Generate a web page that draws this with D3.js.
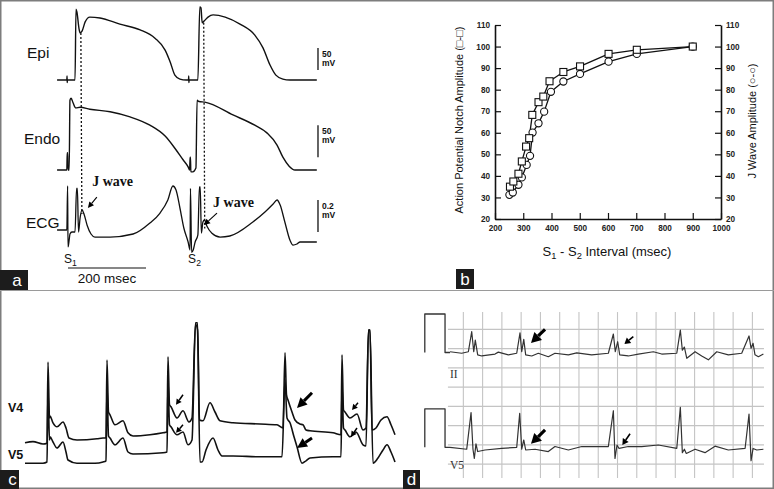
<!DOCTYPE html>
<html>
<head>
<meta charset="utf-8">
<title>J wave figure</title>
<script src="https://cdn.jsdelivr.net/npm/d3@7"></script>
<style>
    body { margin: 0; background: #fff; }
    svg { display: block; font-family: "Liberation Sans", Arial, sans-serif; }
</style>
</head>
<body>
<div id="cont"></div>
<script>
// ---------- panel a : action potentials + ECG (t in msec from S1, amplitude above rest)
var epiTrace = [[-28,0],[-5,0],[-3,0],[-2.5,9],[-2,-6],[-1.5,0],[18,0],[20.5,161],[23,154],[28,118],[31,107],[36,111],
    [44,132],[56,143],[82,141],[133,127],[185,114],[223,95],[249,68],[262,41],[274,11],[287,2],[303,0],[309,0],
    [309.5,9],[310,-6],[310.5,0],[333,0],[338,166],[341,164],[344,130],[349,134],[359,143],[372,148],[403,143],
    [441,127],[479,102],[500,73],[518,34],[533,11],[551,2],[569,0],[638,0]];
var endoTrace = [[-28,0],[-5,0],[-3,0],[-2,27],[-1,27],[0,0],[3,0],[5,109],[8,112],[13,105],[20,97],[31,98],[56,95],
    [108,91],[159,83],[210,70],[249,53],[274,34],[295,16],[308,5],[312,0],[313,20],[314,20],[315,-3],[320,-3],
    [328,3],[331,109],[336,107],[351,106],[423,86],[479,70],[510,58],[536,39],[551,20],[567,6],[582,0],[638,0]];
var ecgTrace = [[-28,0],[-5,0],[-3,0],[-1,0.275],[0,-0.106],[3,-0.0625],[5,-0.025],[10,-0.0125],[18,-0.0125],
    [22,0.26],[24,0.26],[27,-0.0125],[31,0.075],[36,0.125],[41,0.1],[49,0.03],[59,-0.025],[69,-0.044],[108,-0.044],
    [167,-0.025],[210,0.044],[236,0.106],[256,0.1875],[269,0.275],[277,0.25],[287,0.1375],[297,0.0125],[308,-0.075],
    [313,-0.125],[314,0.26],[317,-0.14],[321,-0.125],[326,-0.075],[333,-0.03],[337,0.27],[339,0.27],[342,-0.02],
    [346,0.05],[350,0.0625],[356,0.025],[369,-0.02],[390,-0.044],[415,-0.0375],[474,0.05],[505,0.1125],[526,0.1625],
    [536,0.1875],[544,0.156],[556,0.05],[569,-0.0625],[577,-0.094],[587,-0.0875],[595,-0.075],[638,-0.075]];
var notchTimes = [33, 348];
var notchTop = [107, 130];
var notchBottom = [0.1, 0.01];
var jWaveArrows = [[74, 0.206, 51, 0.1375], [382, 0.106, 349, 0.031]];
var jWaveText = [[62, 0.275], [372, 0.144]];

// ---------- panel b : restitution of notch and J wave
var xTicksB = [200, 300, 400, 500, 600, 700, 800, 900, 1000];
var yTicksB = [20, 30, 40, 50, 60, 70, 80, 90, 100, 110];
var notchInterval = [253, 265, 283, 295, 310, 321, 332, 354, 371, 393, 442, 501, 602, 702, 900];
var notchAmplitude = [35, 37.4, 41, 46.7, 53.6, 57.5, 68.3, 74.2, 76.8, 83.9, 88.2, 90.8, 96.6, 98.5, 100];
var jInterval = [251, 263, 283, 295, 312, 324, 333, 354, 374, 398, 442, 501, 602, 702, 900];
var jAmplitude = [31.2, 32.3, 35.9, 39.3, 45.1, 49.3, 60.1, 64.4, 69.8, 79, 83.8, 87.3, 93, 96.6, 100];

// ---------- panel c : V4 / V5 strip (msec, mV)
var v4Trace = [[0,-0.07],[80,-0.04],[180,-0.1],[220,-0.08],[230,1.95],[245,0.55],[250,0.6],[280,0.43],[320,0.33],
    [380,0.45],[410,0.3],[440,0.05],[520,0],[720,0.03],[780,0.05],[810,0.05],[820,2.0],[835,0.7],[850,0.63],
    [900,0.38],[980,0.48],[1030,0.18],[1080,0.1],[1250,0.13],[1380,0.18],[1420,0.2],[1430,2.08],[1445,0.88],
    [1460,0.83],[1520,0.55],[1580,0.73],[1640,0.45],[1670,0.55],[1705,2.93],[1725,2.93],[1745,0.5],[1780,0.48],
    [1850,0.93],[1900,0.7],[1950,0.48],[2080,0.43],[2350,0.4],[2520,0.38],[2580,0.3],[2600,2.18],[2615,1.13],
    [2630,1.0],[2670,0.7],[2700,0.5],[2750,0.4],[2780,0.38],[2810,0.25],[2850,0.23],[3080,0.18],[3160,0.13],
    [3170,2.13],[3185,0.75],[3200,0.7],[3250,0.55],[3320,0.65],[3380,0.25],[3410,0.3],[3435,2.75],[3450,2.75],
    [3470,0.25],[3510,0.3],[3560,0.5],[3620,0.58],[3660,0.38],[3700,0.13]];
var v5Trace = [[0,-0.03],[80,-0.03],[180,-0.03],[220,0],[230,1.8],[245,0.55],[250,0.63],[280,0.5],[320,0.35],
    [380,0.5],[410,0.25],[430,0.05],[520,-0.03],[700,-0.03],[780,0],[810,0.03],[820,1.93],[835,0.65],[850,0.6],
    [900,0.43],[980,0.6],[1030,0.25],[1080,0.2],[1380,0.23],[1420,0.25],[1430,2.05],[1445,0.93],[1460,0.88],
    [1520,0.68],[1580,0.75],[1630,0.43],[1670,0.55],[1705,3.45],[1725,3.3],[1750,0],[1770,0],[1810,0.3],
    [1880,0.6],[1930,0.3],[1970,0.15],[2080,0.15],[2350,0.13],[2570,0.13],[2600,2.05],[2620,1.1],[2650,0.98],
    [2690,0.63],[2720,0.38],[2770,-0.03],[2810,0.03],[2850,0.1],[3080,0.13],[3160,0.13],[3170,1.93],[3185,0.85],
    [3200,0.8],[3250,0.63],[3310,0.75],[3380,0.43],[3410,0.4],[3435,3.3],[3450,3.3],[3480,-0.03],[3530,0.1],
    [3580,0.3],[3620,0.43],[3660,0.25],[3700,0]];
// arrows: tail t, tail mV, head t, head mV, big?
var v4Arrows = [[1580,1.13,1510,0.88,0],[2870,1.18,2720,0.8,1],[3330,0.93,3270,0.75,0]];
var v5Arrows = [[1580,0.93,1510,0.73,0],[2870,0.6,2720,0.35,1],[3320,0.85,3260,0.63,0]];

// ---------- panel d : leads II / V5 on paper (msec, mV)
var gridMs = [400, 600, 800, 1000, 1200, 1400, 1600, 1800, 2000, 2200, 2400, 2600, 2800, 3000, 3200, 3400];
var gridMv = [0.6, 0.1, -0.4, -0.9, -1.4, -1.9, -2.4, -2.9];
var calPulse = [[0,0],[0,1],[210,1],[210,0],[262,0]];
var leadIITrace = [[262,0.02],[383,-0.02],[452,0.02],[487,0.54],[508,0.02],[524,0.32],[549,-0.06],[591,-0.09],
    [729,-0.04],[763,0.01],[867,-0.06],[954,-0.02],[988,0.51],[1006,0.02],[1027,0.34],[1047,-0.06],[1110,-0.09],
    [1178,-0.02],[1282,-0.11],[1351,-0.02],[1490,-0.06],[1577,-0.01],[1732,-0.06],[1905,-0.02],[1957,0.48],
    [1977,0.02],[2002,0.28],[2023,-0.06],[2112,-0.09],[2216,-0.04],[2372,0.02],[2459,-0.04],[2615,-0.02],
    [2652,0.58],[2673,0.06],[2694,0.14],[2719,-0.15],[2805,0.02],[2874,-0.09],[2943,-0.19],[3030,0.02],
    [3150,-0.06],[3289,-0.02],[3365,0.43],[3386,0.11],[3407,0.24],[3427,-0.06],[3462,-0.11],[3514,-0.04]];
var leadV5Trace = [[262,0],[435,-0.05],[480,0.9],[500,-0.05],[514,-0.29],[531,0.09],[549,-0.11],[625,-0.07],
    [798,-0.03],[954,0],[985,0.88],[1006,-0.05],[1027,0.19],[1047,-0.07],[1144,-0.05],[1282,-0.11],[1351,0.02],
    [1490,-0.07],[1629,0.02],[1905,0.02],[1957,0.95],[1974,-0.29],[1995,0.06],[2016,-0.03],[2112,0.02],
    [2251,0.02],[2424,0.06],[2615,-0.03],[2652,1.04],[2673,-0.14],[2694,-0.05],[2714,-0.16],[2805,-0.05],
    [2908,-0.14],[3012,0.03],[3150,-0.07],[3324,-0.03],[3365,0.86],[3386,-0.35],[3407,-0.03],[3445,-0.07],
    [3514,-0.05]];
var leadIIArrows = [[1248,0.6,1102,0.25,1],[2164,0.41,2071,0.22,0]];
var leadV5Arrows = [[1248,0.45,1102,0.09,1],[2130,0.35,2050,0.06,0]];

(function() {
    var svg = d3.select('#cont').append('svg')
        .attr('width', 774)
        .attr('height', 489);

    function trace(g, data, x, y, curve, width, color) {
        g.append('path')
            .datum(data)
            .attr('d', d3.line().x(function(d) { return x(d[0]); }).y(function(d) { return y(d[1]); }).curve(curve))
            .attr('fill', 'none')
            .attr('stroke', color)
            .attr('stroke-width', width)
            .attr('stroke-linejoin', 'round');
    }

    function arrow(g, x1, y1, x2, y2, len, half, w) {
        var a = Math.atan2(y2 - y1, x2 - x1);
        var bx = x2 - len * Math.cos(a), by = y2 - len * Math.sin(a);
        var px = -Math.sin(a) * half, py = Math.cos(a) * half;
        g.append('line')
            .attr('x1', x1).attr('y1', y1).attr('x2', bx).attr('y2', by)
            .attr('stroke', '#000').attr('stroke-width', w);
        g.append('path')
            .attr('d', 'M' + x2 + ',' + y2 + 'L' + (bx + px) + ',' + (by + py) + 'L' + (bx - px) + ',' + (by - py) + 'Z')
            .attr('fill', '#000');
    }

    function subText(g, x, y, parts, size, anchor) {
        var t = g.append('text').attr('x', x).attr('y', y)
            .attr('font-size', size).attr('text-anchor', anchor || 'start').attr('fill', '#111');
        parts.forEach(function(p) {
            t.append('tspan').text(p[0])
                .attr('font-size', p[1] ? size * 0.72 : size)
                .attr('dy', p[1] ? size * 0.25 : (p[2] ? -size * 0.25 : 0));
        });
        return t;
    }

    function panelTag(x, y, w, h, letter) {
        svg.append('rect').attr('x', x).attr('y', y).attr('width', w).attr('height', h).attr('fill', '#1c1c1c');
        svg.append('text').attr('x', x + w / 2 + (x === 0 ? 3 : 0)).attr('y', y + h - 4)
            .attr('text-anchor', 'middle').attr('fill', '#fff').attr('font-size', 17).text(letter);
    }

    //frame
    svg.append('rect').attr('x', 0.75).attr('y', 0.75).attr('width', 772.5).attr('height', 487.5)
        .attr('fill', 'none').attr('stroke', '#7d7d7d').attr('stroke-width', 1.5);
    svg.append('line').attr('x1', 0).attr('x2', 774).attr('y1', 290.5).attr('y2', 290.5)
        .attr('stroke', '#9a9a9a').attr('stroke-width', 1);

    // ================= panel a
    var ga = svg.append('g');
    var xA = d3.scaleLinear().domain([0, 200]).range([68, 146]);
    var yEpi = d3.scaleLinear().domain([0, 50]).range([80, 58]);
    var yEndo = d3.scaleLinear().domain([0, 50]).range([170, 138]);
    var yEcgA = d3.scaleLinear().domain([0, 0.2]).range([230, 198]);

    trace(ga, epiTrace, xA, yEpi, d3.curveMonotoneX, 1.4, '#111');
    trace(ga, endoTrace, xA, yEndo, d3.curveMonotoneX, 1.4, '#111');
    trace(ga, ecgTrace, xA, yEcgA, d3.curveMonotoneX, 1.3, '#111');

    notchTimes.forEach(function(t, i) {
        ga.append('line')
            .attr('x1', xA(t)).attr('x2', xA(t) + 1)
            .attr('y1', yEpi(notchTop[i])).attr('y2', yEcgA(notchBottom[i]))
            .attr('stroke', '#111').attr('stroke-width', 1.3).attr('stroke-dasharray', '2,2');
    });

    jWaveArrows.forEach(function(a) {
        arrow(ga, xA(a[0]), yEcgA(a[1]), xA(a[2]), yEcgA(a[3]), 6, 3, 1.1);
    });
    jWaveText.forEach(function(p) {
        ga.append('text').attr('x', xA(p[0])).attr('y', yEcgA(p[1]))
            .attr('font-family', '"Liberation Serif", "Times New Roman", serif')
            .attr('font-weight', 'bold').attr('font-size', 14).attr('fill', '#111').text('J wave');
    });

    //trace labels
    [['Epi', 27, 58], ['Endo', 24, 144], ['ECG', 26, 228]].forEach(function(l) {
        ga.append('text').attr('x', l[1]).attr('y', l[2]).attr('font-size', 15.5).attr('fill', '#111').text(l[0]);
    });

    //amplitude scale bars
    var bars = [[yEpi, 23, 73, '50'], [yEndo, 20, 70, '50'], [yEcgA, -0.0125, 0.1875, '0.2']];
    bars.forEach(function(b) {
        var y0 = b[0](b[1]), y1 = b[0](b[2]);
        ga.append('line').attr('x1', xA(641)).attr('x2', xA(641)).attr('y1', y0).attr('y2', y1)
            .attr('stroke', '#111').attr('stroke-width', 1.3);
        ga.append('text').attr('x', xA(641) + 4).attr('y', y1 + 9).attr('font-size', 8.5)
            .attr('font-weight', 'bold').attr('fill', '#111').text(b[3]);
        ga.append('text').attr('x', xA(641) + 4).attr('y', y1 + 18).attr('font-size', 8.5)
            .attr('font-weight', 'bold').attr('fill', '#111').text('mV');
    });

    //time scale bar
    ga.append('line').attr('x1', xA(0)).attr('x2', xA(200)).attr('y1', yEcgA(-0.2375)).attr('y2', yEcgA(-0.2375))
        .attr('stroke', '#111').attr('stroke-width', 1.2);
    ga.append('text').attr('x', xA(100)).attr('y', 283).attr('text-anchor', 'middle')
        .attr('font-size', 13.5).attr('fill', '#111').text('200 msec');
    subText(ga, xA(-10), 263, [['S'], ['1', true]], 12);
    subText(ga, xA(308), 263, [['S'], ['2', true]], 12);

    panelTag(0, 270, 28, 20, 'a');

    // ================= panel b
    var gb = svg.append('g');
    var xB = d3.scaleLinear().domain([200, 1000]).range([495, 721]);
    var yB = d3.scaleLinear().domain([20, 110]).range([219, 25]);

    function styleAxis(sel) {
        sel.select('.domain').attr('stroke', '#111').attr('stroke-width', 1.6);
        sel.selectAll('.tick line').attr('stroke', '#111').attr('stroke-width', 1.2);
        sel.selectAll('.tick text').attr('font-size', 8.2).attr('font-weight', 'bold').attr('fill', '#222')
            .attr('font-family', '"Liberation Sans", Arial, sans-serif');
    }

    gb.append('g').attr('transform', 'translate(0,219)')
        .call(d3.axisBottom(xB).tickValues(xTicksB).tickFormat(d3.format('d'))
            .tickSizeInner(-6).tickSizeOuter(0).tickPadding(6.5))
        .call(styleAxis);
    gb.append('g').attr('transform', 'translate(495,0)')
        .call(d3.axisLeft(yB).tickValues(yTicksB).tickSizeInner(-6).tickSizeOuter(0).tickPadding(5))
        .call(styleAxis);
    gb.append('g').attr('transform', 'translate(721,0)')
        .call(d3.axisRight(yB).tickValues(yTicksB).tickSizeInner(-6).tickSizeOuter(0).tickPadding(5))
        .call(styleAxis);

    var notchPts = notchInterval.map(function(d, i) { return [d, notchAmplitude[i]]; });
    var jPts = jInterval.map(function(d, i) { return [d, jAmplitude[i]]; });

    trace(gb, jPts, xB, yB, d3.curveLinear, 1.3, '#111');
    trace(gb, notchPts, xB, yB, d3.curveLinear, 1.3, '#111');

    gb.selectAll('circle.j').data(jPts).enter().append('circle')
        .attr('class', 'j')
        .attr('cx', function(d) { return xB(d[0]); })
        .attr('cy', function(d) { return yB(d[1]); })
        .attr('r', 3.6)
        .attr('fill', '#fff').attr('stroke', '#111').attr('stroke-width', 1.1);
    gb.selectAll('rect.n').data(notchPts).enter().append('rect')
        .attr('class', 'n')
        .attr('x', function(d) { return xB(d[0]) - 3.5; })
        .attr('y', function(d) { return yB(d[1]) - 3.5; })
        .attr('width', 7).attr('height', 7)
        .attr('fill', '#fff').attr('stroke', '#111').attr('stroke-width', 1.1);

    subText(gb, 607, 256, [['S'], ['1', true], [' - ', false, true], ['S'], ['2', true], [' Interval (msec)', false, true]], 13, 'middle');

    gb.append('text').attr('transform', 'translate(463,120) rotate(-90)').attr('text-anchor', 'middle')
        .attr('font-size', 11).attr('fill', '#111').text('Action Potential Notch  Amplitude (\u25A1-\u25A1)');
    gb.append('text').attr('transform', 'translate(756,121) rotate(-90)').attr('text-anchor', 'middle')
        .attr('font-size', 11).attr('fill', '#111').text('J Wave  Amplitude (\u25CB-\u25CB)');

    panelTag(456, 269, 18, 20, 'b');

    // ================= panel c
    var gc = svg.append('g');
    var xC = d3.scaleLinear().domain([0, 3700]).range([25, 395]);
    var yV4 = d3.scaleLinear().domain([0, 1]).range([440, 400]);
    var yV5 = d3.scaleLinear().domain([0, 1]).range([462, 422]);

    trace(gc, v4Trace, xC, yV4, d3.curveMonotoneX, 1.6, '#111');
    trace(gc, v5Trace, xC, yV5, d3.curveMonotoneX, 1.6, '#111');

    v4Arrows.forEach(function(a) {
        if (a[4]) arrow(gc, xC(a[0]), yV4(a[1]), xC(a[2]), yV4(a[3]), 10, 5, 3);
        else arrow(gc, xC(a[0]), yV4(a[1]), xC(a[2]), yV4(a[3]), 5.5, 3, 1.5);
    });
    v5Arrows.forEach(function(a) {
        if (a[4]) arrow(gc, xC(a[0]), yV5(a[1]), xC(a[2]), yV5(a[3]), 10, 5, 3);
        else arrow(gc, xC(a[0]), yV5(a[1]), xC(a[2]), yV5(a[3]), 5.5, 3, 1.5);
    });

    gc.append('text').attr('x', 8).attr('y', 412).attr('font-size', 12.5).attr('font-weight', 'bold')
        .attr('fill', '#111').text('V4');
    gc.append('text').attr('x', 8).attr('y', 459).attr('font-size', 12.5).attr('font-weight', 'bold')
        .attr('fill', '#111').text('V5');

    panelTag(0, 470, 19, 19, 'c');

    // ================= panel d
    var gd = svg.append('g');
    var xD = d3.scaleLinear().domain([0, 3400]).range([424.8, 752.4]);
    var yII = d3.scaleLinear().domain([0, 1]).range([352.5, 314]);
    var yV5d = d3.scaleLinear().domain([0, 1]).range([447.3, 408.8]);

    //paper grid
    gd.selectAll('line.gv').data(gridMs).enter().append('line')
        .attr('x1', function(d) { return xD(d); }).attr('x2', function(d) { return xD(d); })
        .attr('y1', yII(1.05)).attr('y2', yII(-3.26))
        .attr('stroke', '#c4c4c4').attr('stroke-width', 1.1);
    gd.selectAll('line.gh').data(gridMv).enter().append('line')
        .attr('x1', xD(240)).attr('x2', xD(3520))
        .attr('y1', function(d) { return yII(d); }).attr('y2', function(d) { return yII(d); })
        .attr('stroke', '#c4c4c4').attr('stroke-width', 1.1);

    trace(gd, calPulse, xD, yII, d3.curveLinear, 1.3, '#333');
    trace(gd, calPulse, xD, yV5d, d3.curveLinear, 1.3, '#333');
    trace(gd, leadIITrace, xD, yII, d3.curveLinear, 1.2, '#333');
    trace(gd, leadV5Trace, xD, yV5d, d3.curveLinear, 1.2, '#333');

    leadIIArrows.forEach(function(a) {
        if (a[4]) arrow(gd, xD(a[0]), yII(a[1]), xD(a[2]), yII(a[3]), 10, 5.5, 3.2);
        else arrow(gd, xD(a[0]), yII(a[1]), xD(a[2]), yII(a[3]), 6, 3.5, 1.6);
    });
    leadV5Arrows.forEach(function(a) {
        if (a[4]) arrow(gd, xD(a[0]), yV5d(a[1]), xD(a[2]), yV5d(a[3]), 10, 5.5, 3.2);
        else arrow(gd, xD(a[0]), yV5d(a[1]), xD(a[2]), yV5d(a[3]), 6, 3.5, 1.6);
    });

    gd.append('text').attr('x', 450).attr('y', 378).attr('font-size', 11.5)
        .attr('font-family', '"Liberation Serif", "Times New Roman", serif').attr('fill', '#333').text('II');
    gd.append('text').attr('x', 450).attr('y', 469).attr('font-size', 11.5)
        .attr('font-family', '"Liberation Serif", "Times New Roman", serif').attr('fill', '#333').text('V5');

    panelTag(403, 470, 17, 19, 'd');
})();
</script>
</body>
</html>
